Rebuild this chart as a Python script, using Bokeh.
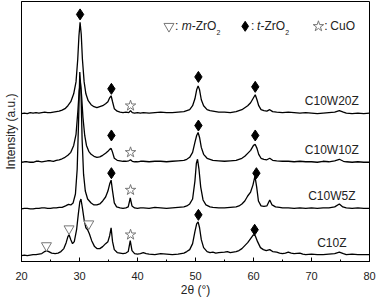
from bokeh.plotting import figure
from bokeh.models import Range1d, SingleIntervalTicker, FixedTicker
from bokeh.core.properties import value
from bokeh.embed import file_html
from bokeh.resources import INLINE

# ---------------- data (2theta, intensity a.u. above each baseline) ----------------
samples = ["C10W20Z", "C10W10Z", "C10W5Z", "C10Z"]
offsets = [149, 100, 53, 6]

c10w20z_x = [20, 20.5, 21, 21.5, 22, 22.5, 23, 23.5, 24, 24.5, 25, 25.5, 26, 26.5, 27, 27.5, 28, 28.5, 29, 29.4,
             29.7, 29.9, 30.1, 30.3, 30.5, 30.8, 31.1, 31.5, 32, 32.5, 33, 33.5, 34, 34.5, 34.9, 35.2, 35.45, 35.7,
             36, 36.5, 37, 37.5, 38, 38.5, 38.8, 39.1, 39.5, 40, 40.5, 41, 42, 43, 44, 45, 46, 47, 48, 48.5, 49,
             49.5, 49.9, 50.2, 50.45, 50.7, 51, 51.4, 52, 52.5, 53, 54, 55, 56, 57, 57.5, 58, 58.5, 59, 59.5, 60,
             60.3, 60.6, 60.9, 61.3, 61.8, 62.3, 62.8, 63.3, 64, 65, 66, 67, 68, 69, 70, 71, 72, 73, 74, 74.8,
             75.5, 76, 77, 78, 79, 80]
c10w20z_y = [0, 0.5, 0, 1, 0.5, 1, 0.5, 1, 1.5, 1, 1, 1.5, 2, 2.5, 3.5, 5, 8, 12, 20, 32,
             55, 78, 92, 80, 55, 32, 20, 13, 9, 7, 6, 7, 8, 10, 12, 16, 18, 12,
             5, 2.5, 1.5, 1, 1.5, 1, 3, 1, 0.5, 1, 0.5, 1, 0.5, 1, 1.5, 1, 1, 1.5, 2, 3, 4,
             8, 15, 24, 28, 24, 14, 8, 4, 3, 2.5, 1.5, 1.5, 1, 2, 3, 4, 6, 8, 11, 16,
             19, 14, 8, 4, 3, 2.5, 4, 2, 1.5, 1, 1.5, 1, 0.5, 1, 0.5, 0, 0.5, 1, 1.5, 3,
             1.5, 0.5, 0, 0.5, 0, 0.5]

c10w10z_x = [20, 20.5, 21, 21.5, 22, 22.5, 23, 23.5, 24, 24.5, 25, 25.5, 26, 26.5, 27, 27.5, 28, 28.5, 29, 29.4,
             29.7, 29.95, 30.15, 30.35, 30.6, 30.9, 31.2, 31.6, 32, 32.5, 33, 33.5, 34, 34.5, 34.9, 35.2, 35.45,
             35.7, 36, 36.5, 37, 37.5, 38, 38.5, 38.8, 39.1, 39.5, 40, 40.5, 41, 42, 43, 44, 45, 46, 47, 48, 48.5,
             49, 49.5, 49.9, 50.2, 50.45, 50.7, 51, 51.4, 52, 52.5, 53, 54, 55, 56, 57, 57.5, 58, 58.5, 59, 59.5,
             60, 60.3, 60.6, 60.9, 61.3, 61.8, 62.3, 62.8, 63.3, 64, 65, 66, 67, 68, 69, 70, 71, 72, 73, 74, 74.8,
             75.5, 76, 77, 78, 79, 80]
c10w10z_y = [0, 0.5, 0.5, 0, 0, 1, 1, 0.5, 1, 1.5, 1.5, 1, 2, 2.5, 3.5, 5, 7, 10, 17, 28,
             50, 72, 80, 68, 45, 27, 17, 11, 8, 6, 5, 5.5, 7, 9, 11, 13, 14,
             10, 4, 2, 1.5, 1, 1, 1.5, 2.5, 1, 0.5, 0.5, 1, 1, 0.5, 1, 1, 0.5, 1, 1.5, 2, 3,
             5, 10, 20, 27, 30, 25, 15, 8, 4, 3, 2, 1.5, 1, 1.5, 2, 3, 4, 6, 9, 12,
             17, 18, 14, 8, 4, 3, 2.5, 4, 2, 1.5, 1, 1, 0.5, 1, 0.5, 0.5, 0, 1, 0.5, 1.5, 3,
             1, 0.5, 0, 0.5, 0, 0]

c10w5z_x = [20, 20.5, 21, 21.5, 22, 22.5, 23, 23.5, 24, 24.5, 25, 25.5, 26, 26.5, 27, 27.6, 28.1, 28.5, 28.9, 29.3,
            29.6, 29.85, 30.05, 30.25, 30.45, 30.7, 31, 31.4, 32, 32.5, 33, 33.5, 34, 34.5, 34.9, 35.2, 35.45, 35.7,
            36, 36.4, 37, 37.5, 38, 38.4, 38.75, 39.05, 39.5, 40, 40.5, 41, 42, 43, 44, 45, 46, 47, 48, 48.5, 49,
            49.5, 49.9, 50.15, 50.35, 50.6, 50.9, 51.3, 51.8, 52.5, 53, 54, 55, 56, 57, 57.5, 58, 58.5, 59, 59.5,
            59.9, 60.25, 60.55, 60.85, 61.3, 61.8, 62.3, 62.8, 63.2, 63.8, 64.5, 65, 66, 67, 68, 69, 70, 71, 72,
            73, 74, 74.8, 75.4, 76, 77, 78, 79, 80]
c10w5z_y = [0, 0.5, 0.5, 0, 0, 0.5, 0.5, 1, 1, 0.5, 0.5, 1, 1, 1.5, 1.5, 3, 4.5, 4, 6, 15,
            40, 90, 138, 120, 70, 35, 18, 10, 6, 4, 4, 5, 8, 12, 18, 25, 29, 18,
            6, 2, 1, 0.5, 1, 2, 11, 3, 1, 0.5, 1, 1, 0.5, 1.5, 1, 0.5, 1, 1.5, 2, 3, 5,
            10, 28, 46, 50, 40, 22, 9, 4, 2, 1.5, 1, 1, 1.5, 2, 3, 5, 8, 13, 17,
            24, 33, 22, 8, 3, 2.5, 3, 9, 4, 2, 1.5, 1, 1, 0.5, 1, 0.5, 1, 0.5, 1,
            1, 2, 5, 2, 1, 0.5, 1, 0.5, 0.5]

c10z_x = [20, 20.5, 21, 21.5, 22, 22.5, 23, 23.5, 24, 24.3, 24.7, 25.2, 25.8, 26.3, 26.8, 27.3, 27.7, 28.0, 28.2,
          28.5, 28.8, 29.1, 29.5, 29.8, 30.05, 30.25, 30.5, 30.8, 31.1, 31.4, 31.7, 32.1, 32.6, 33.0, 33.5, 34,
          34.5, 34.9, 35.2, 35.45, 35.7, 36, 36.5, 37, 37.5, 38, 38.4, 38.75, 39.05, 39.5, 40, 40.5, 41, 41.5,
          42, 43, 44, 45, 46, 47, 48, 48.5, 49, 49.5, 49.9, 50.2, 50.45, 50.7, 51, 51.4, 52, 52.5, 53, 53.5, 54,
          55, 55.5, 56, 57, 57.5, 58, 58.5, 59, 59.5, 60, 60.3, 60.7, 61.2, 61.7, 62.2, 62.8, 63.3, 64, 64.5, 65,
          65.5, 66, 66.5, 67, 68, 68.5, 69, 70, 71, 72, 73, 74, 74.8, 75.5, 76, 77, 78, 79, 80]
c10z_y = [0, 0.5, 0, 0.5, 1, 1, 1.5, 2, 4, 5, 4, 2.5, 2, 2.5, 4, 7, 13, 19, 21,
          16, 12, 14, 26, 42, 54, 57, 48, 36, 28, 26, 22, 15, 9, 7, 7, 9,
          12, 14, 20, 28, 14, 6, 3, 2.5, 2, 2.5, 4, 15, 5, 2, 1.5, 2, 3, 2,
          1.5, 1, 2, 1.5, 1, 1.5, 2.5, 4, 6, 12, 24, 32, 34, 28, 16, 8, 4, 3, 3.5, 2.5, 3,
          3.5, 4, 3, 4, 5, 7, 10, 13, 17, 21, 20, 14, 8, 6, 5, 6, 4, 3.5, 2.5, 2,
          2.5, 3.5, 2.5, 2, 2.5, 1.5, 1, 1.5, 1, 1, 1.5, 2, 3.5, 2, 1, 1.5, 1, 1, 1]

curves_x = [c10w20z_x, c10w10z_x, c10w5z_x, c10z_x]
curves_y = [c10w20z_y, c10w10z_y, c10w5z_y, c10z_y]

# phase markers (2theta, stacked intensity)
tzro2_x = [30.1, 35.5, 50.5, 60.3, 35.5, 50.5, 60.3, 35.5, 60.5, 50.5, 60.2]
tzro2_y = [249, 174, 186, 176, 127, 137, 127, 89, 89, 47, 32]
cuo_x = [38.8, 38.8, 38.8, 38.8]
cuo_y = [157, 110, 72, 27]
mzro2_x = [24.3, 28.2, 31.6]
mzro2_y = [16, 33, 38]

label_x = 73.5
label_y = [162, 112, 66, 19]

# ---------------- figure ----------------
FONT = "Liberation Sans"
TXT = "#222222"

p = figure(width=376, height=299, output_backend="svg", toolbar_location=None,
           x_range=Range1d(20, 80), y_range=Range1d(0, 262),
           min_border_left=17, min_border_right=7, min_border_top=1, min_border_bottom=37)
p.grid.visible = False
p.background_fill_color = "white"
p.border_fill_color = "white"
p.outline_line_color = "black"
p.outline_line_width = 1

for xs, ys, off in zip(curves_x, curves_y, offsets):
    p.line(xs, [v + off for v in ys], line_color="black", line_width=1.3)

p.scatter(tzro2_x, tzro2_y, marker="diamond", size=11, fill_color="black", line_color="black")
p.scatter(cuo_x, cuo_y, marker="star", size=11, fill_color="white", line_color="#777777", line_width=1)
p.scatter(mzro2_x, mzro2_y, marker="inverted_triangle", size=10, fill_color="white", line_color="#777777",
          line_width=1)

p.text([label_x] * 4, label_y, text=samples, text_align="center", text_baseline="middle",
       text_font=value(FONT), text_font_size="12px", text_color=TXT)

# legend (top)
def dx(px):
    return 20 + (px - 21.0) / 5.86

ly = 237
lsz = "12px"
p.scatter([dx(170)], [ly], marker="inverted_triangle", size=10, fill_color="white", line_color="#777777")
p.scatter([dx(247)], [ly], marker="diamond", size=10, fill_color="black", line_color="black")
p.scatter([dx(321)], [ly], marker="star", size=11, fill_color="white", line_color="#777777")
p.text([dx(176), dx(253), dx(327)], [ly] * 3, text=[":", ":", ":"], text_baseline="middle",
       text_font=value(FONT), text_font_size=lsz, text_color=TXT)
p.text([dx(183), dx(259)], [ly] * 2, text=["m", "t"], text_baseline="middle",
       text_font=value(FONT), text_font_size=lsz, text_font_style="italic", text_color=TXT)
p.text([dx(193), dx(262.5)], [ly] * 2, text=["-ZrO", "-ZrO"], text_baseline="middle",
       text_font=value(FONT), text_font_size=lsz, text_color=TXT)
p.text([dx(218), dx(287.5)], [ly - 6] * 2, text=["2", "2"], text_baseline="middle",
       text_font=value(FONT), text_font_size="7px", text_color=TXT)
p.text([dx(333)], [ly], text=["CuO"], text_baseline="middle",
       text_font=value(FONT), text_font_size=lsz, text_color=TXT)

# axes
xa = p.xaxis[0]
xa.ticker = SingleIntervalTicker(interval=10, num_minor_ticks=2)
xa.major_tick_in = 4
xa.major_tick_out = 0
xa.minor_tick_in = 2
xa.minor_tick_out = 0
xa.major_label_standoff = 10
xa.major_label_text_font = FONT
xa.major_label_text_font_size = "11px"
xa.major_label_text_color = TXT
xa.axis_label = "2θ (°)"
xa.axis_label_text_font = FONT
xa.axis_label_text_font_size = "12px"
xa.axis_label_text_font_style = "normal"
xa.axis_label_standoff = 0
xa.axis_label_text_color = TXT

ya = p.yaxis[0]
ya.ticker = FixedTicker(ticks=[])
ya.major_tick_in = 0
ya.major_tick_out = 0
ya.minor_tick_in = 0
ya.minor_tick_out = 0
ya.major_label_standoff = 0
ya.axis_label = "Intensity (a.u.)"
ya.axis_label_text_font = FONT
ya.axis_label_text_font_size = "12px"
ya.axis_label_text_font_style = "normal"
ya.axis_label_standoff = 4
ya.axis_label_text_color = TXT

open("out.html", "w").write(file_html(p, INLINE))
